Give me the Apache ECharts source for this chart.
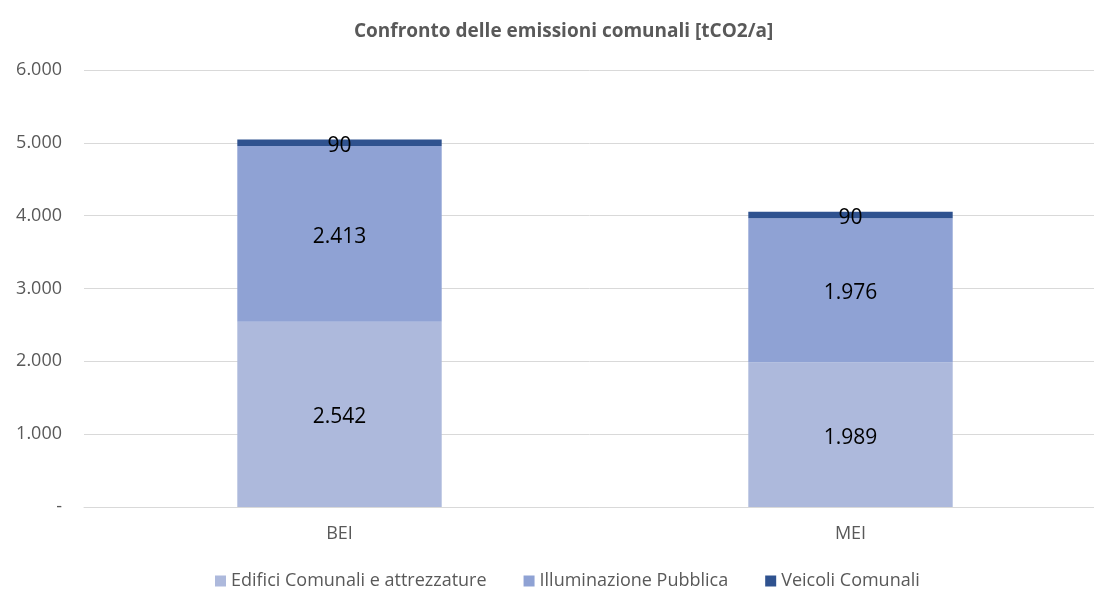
<!DOCTYPE html>
<html><head><meta charset="utf-8">
<script src="https://cdn.jsdelivr.net/npm/echarts@6/dist/echarts.min.js"></script>
<style>html,body{margin:0;padding:0;background:#fff}#c{width:1094px;height:590px}</style>
</head><body><div id="c"></div>
<script>
const categories = ['BEI', 'MEI'];
const seriesNames = ['Edifici Comunali e attrezzature', 'Illuminazione Pubblica', 'Veicoli Comunali'];
const edifici = [2542, 1989];
const illuminazione = [2413, 1976];
const veicoli = [90, 90];
const yTicks = [0, 1000, 2000, 3000, 4000, 5000, 6000];

const colors = ['#ADB9DC', '#8FA2D4', '#2F528F'];
const fmt = v => v === 0 ? '-' : v.toLocaleString('de-DE');
const font = '"Open Sans", "Noto Sans", sans-serif';

const chart = echarts.init(document.getElementById('c'), null, {renderer: 'canvas'});
const mk = (name, data, i) => ({
  name, type: 'bar', stack: 'tot', data, barWidth: '40%',
  itemStyle: {color: colors[i]},
  label: {show: true, position: 'inside', offset: [0, 3], formatter: p => fmt(p.value), color: '#000', fontSize: 21, fontFamily: font}
});
chart.setOption({
  animation: false,
  title: {text: 'Confronto delle emissioni comunali [tCO2/a]', left: 349, top: 17,
    textStyle: {fontSize: 19, fontWeight: 'bold', color: '#595959', fontFamily: font}},
  legend: {left: 210, top: 567, itemWidth: 11, itemHeight: 11, itemGap: 37, icon: 'rect',
    textStyle: {fontSize: 18, color: '#595959', fontFamily: font}},
  grid: {left: 84, top: 70, bottom: 83, width: 1022, outerBoundsMode: 'none', containLabel: false},
  xAxis: {type: 'category', data: categories,
    axisLine: {lineStyle: {color: '#D9D9D9'}}, axisTick: {show: false},
    axisLabel: {fontSize: 18, color: '#595959', margin: 18, fontFamily: font}},
  yAxis: {type: 'value', min: yTicks[0], max: yTicks[yTicks.length - 1], interval: 1000,
    axisLine: {show: false}, axisTick: {show: false},
    splitLine: {lineStyle: {color: '#D9D9D9'}},
    axisLabel: {fontSize: 18, color: '#595959', margin: 22, formatter: fmt, fontFamily: font}},
  series: [mk(seriesNames[0], edifici, 0), mk(seriesNames[1], illuminazione, 1), mk(seriesNames[2], veicoli, 2)]
});
</script></body></html>
